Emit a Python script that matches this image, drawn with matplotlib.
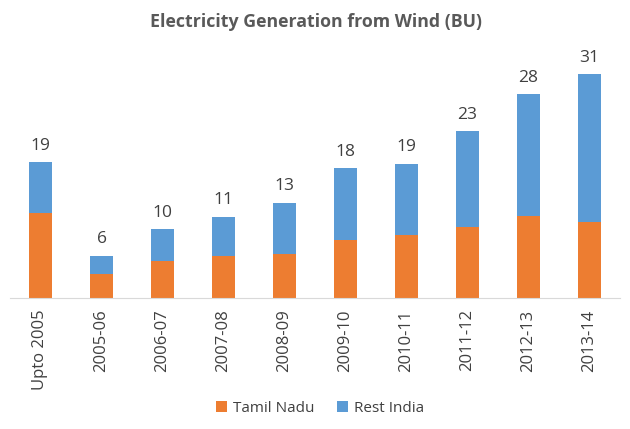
import numpy as np
import matplotlib
matplotlib.use('Agg')
import matplotlib.pyplot as plt

# Values (billion units)
years = ['Upto 2005', '2005-06', '2006-07', '2007-08', '2008-09',
         '2009-10', '2010-11', '2011-12', '2012-13', '2013-14']
tamil_nadu = [11.8, 3.4, 5.2, 5.9, 6.1, 8.1, 8.7, 9.8, 11.4, 10.5]
rest_india = [7.0, 2.5, 4.4, 5.4, 7.1, 9.9, 9.9, 13.3, 16.8, 20.5]
totals = [19, 6, 10, 11, 13, 18, 19, 23, 28, 31]

orange = '#ED7D31'
blue = '#5B9BD5'
text_col = '#404040'

plt.rcParams['font.family'] = ['Open Sans', 'DejaVu Sans']

fig = plt.figure(figsize=(6.3, 4.29), dpi=100)
ax = fig.add_axes([10 / 630, 130.7 / 429, 610 / 630, 253.2 / 429])

x = np.arange(len(years))
w = 0.39
ax.bar(x, tamil_nadu, w, color=orange, label='Tamil Nadu')
ax.bar(x, rest_india, w, bottom=tamil_nadu, color=blue, label='Rest India')

for xi, tn, ri, t in zip(x, tamil_nadu, rest_india, totals):
    ax.annotate(str(t), (xi, tn + ri), xytext=(0, 6), textcoords='offset points',
                ha='center', va='bottom', fontsize=12.5, color=text_col)

ax.set_xlim(-0.5, len(years) - 0.5)
ax.set_ylim(0, 35)
ax.set_yticks([])
ax.set_xticks(x)
ax.set_xticklabels(years, rotation=90, fontsize=12, color=text_col)
ax.tick_params(axis='x', length=0, pad=8)
for s in ['top', 'right', 'left']:
    ax.spines[s].set_visible(False)
ax.spines['bottom'].set_color('#D9D9D9')

fig.text(316 / 630, 1 - 22 / 429, 'Electricity Generation from Wind (BU)',
         ha='center', va='center', fontsize=12.8, fontweight='bold', color='#595959')

fig.legend(loc='center', bbox_to_anchor=(320 / 630, 1 - 408 / 429), ncol=2,
           frameon=False, fontsize=11, handlelength=0.7, handleheight=0.7,
           handletextpad=0.4, columnspacing=1.5, labelcolor=text_col)

fig.savefig('out.png', dpi=100)
